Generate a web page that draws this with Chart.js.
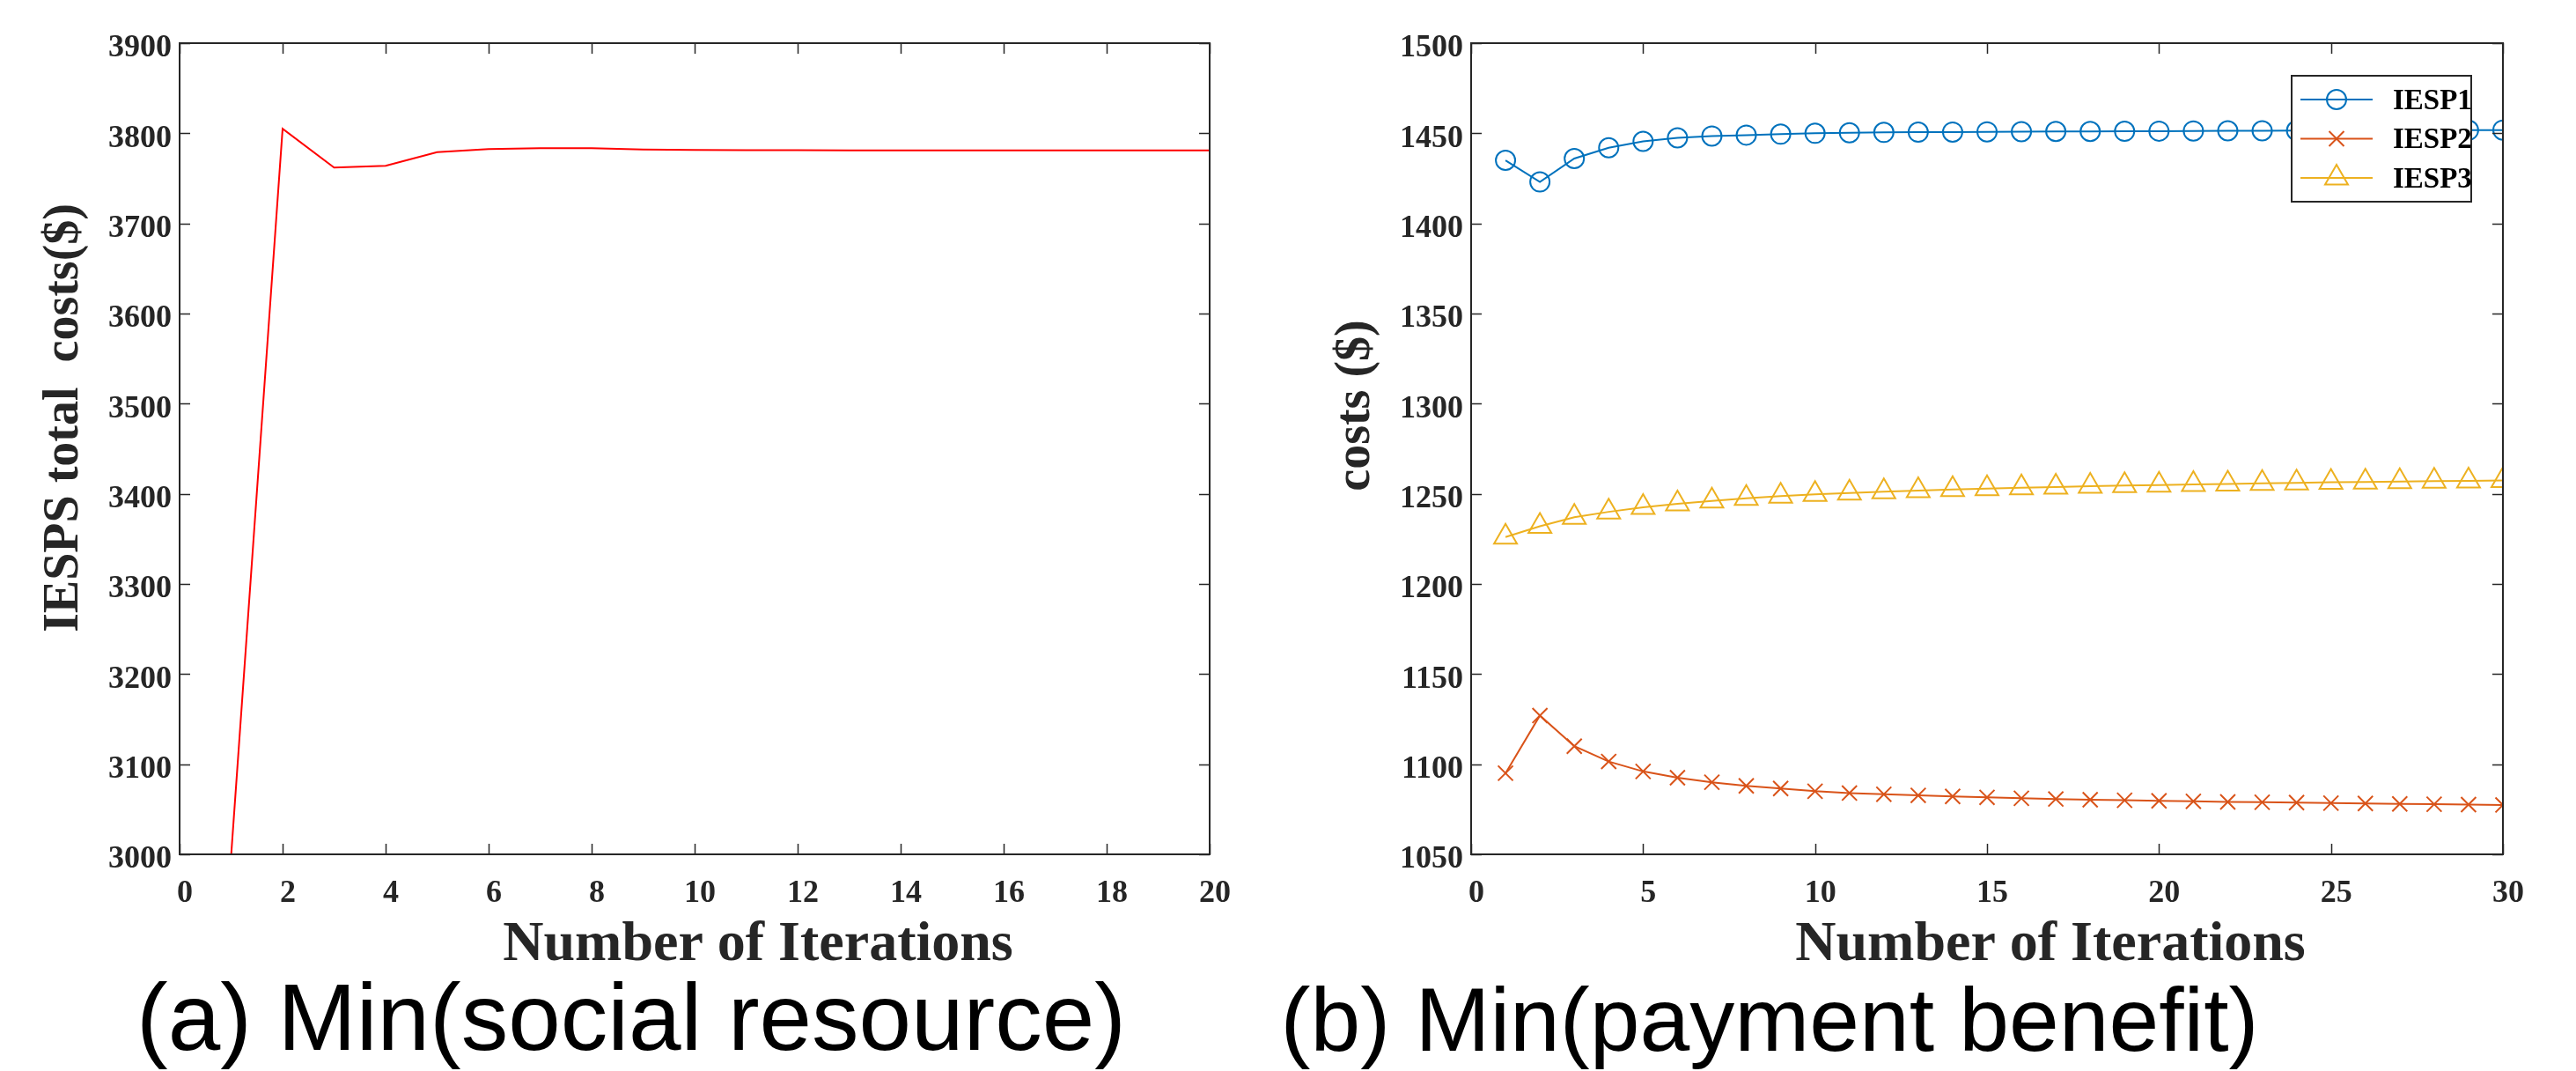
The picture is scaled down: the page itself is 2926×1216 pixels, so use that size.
<!DOCTYPE html>
<html>
<head>
<meta charset="utf-8">
<script src="https://cdn.jsdelivr.net/npm/chart.js@4/dist/chart.umd.min.js"></script>
<style>
  html, body { margin: 0; padding: 0; background: #fff; }
  body { width: 2926px; height: 1216px; position: relative; overflow: hidden; }
  .pane { position: absolute; top: 0; width: 1463px; height: 1216px; }
  .sub { position: absolute; width: 1400px; text-align: center;
         font-family: "Liberation Sans", Arial, sans-serif;
         color: #000; white-space: pre; }
</style>
</head>
<body>
<div class="pane" style="left:0"><canvas id="chartA" width="1463" height="1216"></canvas></div>
<div class="pane" style="left:1463px"><canvas id="chartB" width="1463" height="1216"></canvas></div>
<div class="sub" id="subA" style="left:17px; top:1102px; font-size:107px; line-height:107px">(a) Min(social resource)</div>
<div class="sub" id="subB" style="left:1310px; top:1107px; font-size:102px; line-height:102px">(b) Min(payment benefit)</div>
<script>
// ---------- data: chart (a) ----------
const iterationsA = [1,2,3,4,5,6,7,8,9,10,11,12,13,14,15,16,17,18,19,20];
const totalCostA  = [2998,3805,3762,3764,3779,3782.5,3783.5,3783.5,3782,3781.5,3781.3,3781.2,3781.1,3781,3781,3781,3781,3781,3781,3781];
const xTicksA = [0,2,4,6,8,10,12,14,16,18,20];
const yTicksA = [3000,3100,3200,3300,3400,3500,3600,3700,3800,3900];

// ---------- data: chart (b) ----------
const iterationsB = [1,2,3,4,5,6,7,8,9,10,11,12,13,14,15,16,17,18,19,20,21,22,23,24,25,26,27,28,29,30];
const seriesNamesB = ['IESP1','IESP2','IESP3'];
const iesp1 = [1435,1423,1436,1442,1445.5,1447.5,1448.5,1449,1449.5,1450,1450.3,1450.5,1450.6,1450.7,1450.8,1450.9,1451,1451,1451.1,1451.2,1451.3,1451.4,1451.4,1451.5,1451.5,1451.6,1451.6,1451.7,1451.7,1451.8];
const iesp2 = [1095,1127,1110,1101.5,1096,1092.5,1090,1088,1086.5,1085,1084,1083.3,1082.7,1082.1,1081.6,1081.1,1080.7,1080.3,1080,1079.7,1079.4,1079.1,1078.9,1078.7,1078.4,1078.2,1078,1077.8,1077.6,1077.4];
const iesp3 = [1226,1232,1237,1240,1242.5,1244.5,1246,1247.5,1248.7,1249.7,1250.5,1251.2,1251.8,1252.4,1252.9,1253.4,1253.8,1254.2,1254.6,1254.9,1255.2,1255.5,1255.8,1256.1,1256.4,1256.6,1256.8,1257,1257.2,1257.4];
const xTicksB = [0,5,10,15,20,25,30];
const yTicksB = [1050,1100,1150,1200,1250,1300,1350,1400,1450,1500];

const AXIS_COLOR = '#262626';
const SERIF = '"Liberation Serif", "Times New Roman", serif';

// frame + inward ticks on all four sides
const frameTicks = {
  id: 'frameTicks',
  afterDatasetsDraw(chart) {
    const {ctx, chartArea: a, scales: {x, y}} = chart;
    const L = 12;
    ctx.save();
    ctx.strokeStyle = AXIS_COLOR;
    ctx.lineWidth = 1.5;
    ctx.beginPath();
    x.ticks.forEach(t => {
      const px = Math.round(x.getPixelForValue(t.value)) + 0.5;
      ctx.moveTo(px, a.bottom); ctx.lineTo(px, a.bottom - L);
      ctx.moveTo(px, a.top); ctx.lineTo(px, a.top + L);
    });
    y.ticks.forEach(t => {
      const py = Math.round(y.getPixelForValue(t.value)) + 0.5;
      ctx.moveTo(a.left, py); ctx.lineTo(a.left + L, py);
      ctx.moveTo(a.right, py); ctx.lineTo(a.right - L, py);
    });
    ctx.stroke();
    ctx.lineWidth = 2;
    ctx.strokeRect(a.left, a.top, a.right - a.left, a.bottom - a.top);
    ctx.restore();
  }
};

function drawMarker(ctx, style, r, cx, cy) {
  ctx.beginPath();
  if (style === 'circle') {
    ctx.arc(cx, cy, r, 0, Math.PI * 2);
    ctx.fill();
    ctx.stroke();
  } else if (style === 'crossRot') {
    const d = r * Math.SQRT1_2;
    ctx.moveTo(cx - d, cy - d); ctx.lineTo(cx + d, cy + d);
    ctx.moveTo(cx - d, cy + d); ctx.lineTo(cx + d, cy - d);
    ctx.stroke();
  } else if (style === 'triangle') {
    ctx.moveTo(cx, cy - r);
    ctx.lineTo(cx + r * Math.sin(Math.PI * 2 / 3), cy + r / 2);
    ctx.lineTo(cx - r * Math.sin(Math.PI * 2 / 3), cy + r / 2);
    ctx.closePath();
    ctx.fill();
    ctx.stroke();
  }
}

// boxed legend (line + marker + label), drawn over the data
const boxLegend = {
  id: 'boxLegend',
  afterDraw(chart) {
    const {ctx, chartArea: a} = chart;
    const w = 204, h = 143;
    const x0 = a.right - 36 - w, y0 = a.top + 37;
    ctx.save();
    ctx.fillStyle = '#fff';
    ctx.fillRect(x0, y0, w, h);
    ctx.strokeStyle = AXIS_COLOR;
    ctx.lineWidth = 2;
    ctx.strokeRect(x0, y0, w, h);
    chart.data.datasets.forEach((ds, i) => {
      const cy = y0 + 27 + i * 44.5;
      ctx.strokeStyle = ds.borderColor;
      ctx.lineWidth = ds.borderWidth;
      ctx.beginPath(); ctx.moveTo(x0 + 10, cy); ctx.lineTo(x0 + 92, cy); ctx.stroke();
      ctx.fillStyle = ds.pointBackgroundColor;
      ctx.lineWidth = ds.pointBorderWidth;
      drawMarker(ctx, ds.pointStyle, ds.pointRadius, x0 + 51, cy);
      ctx.fillStyle = '#000';
      ctx.font = 'bold 33px ' + SERIF;
      ctx.textBaseline = 'middle';
      ctx.textAlign = 'left';
      ctx.fillText(ds.label, x0 + 115, cy + 2);
    });
    ctx.restore();
  }
};

const plainNumber = v => String(v);

function axisX(min, max, tickList, titleText) {
  return {
    type: 'linear', min, max,
    afterBuildTicks: s => { s.ticks = tickList.map(v => ({value: v})); },
    afterFit: s => { s.height = 136; },
    grid: { display: false, drawTicks: false },
    border: { display: false },
    ticks: { color: AXIS_COLOR, padding: 23, labelOffset: 6, maxRotation: 0, autoSkip: false,
             callback: plainNumber,
             font: { family: SERIF, size: 36, weight: 'bold', lineHeight: 1.2 } },
    title: { display: true, text: titleText, color: AXIS_COLOR,
             font: { family: SERIF, size: 64, weight: 'bold', lineHeight: 1 },
             padding: { top: 0, bottom: 1 } }
  };
}
function axisY(min, max, tickList, titleText, width, titlePad) {
  return {
    type: 'linear', min, max,
    afterBuildTicks: s => { s.ticks = tickList.map(v => ({value: v})); },
    afterFit: s => { s.width = width; },
    grid: { display: false, drawTicks: false },
    border: { display: false },
    ticks: { color: AXIS_COLOR, padding: 9, labelOffset: 6, autoSkip: false,
             callback: plainNumber,
             font: { family: SERIF, size: 36, weight: 'bold', lineHeight: 1.2 } },
    title: { display: true, text: titleText, color: AXIS_COLOR,
             font: { family: SERIF, size: 56, weight: 'bold', lineHeight: 1.2 },
             padding: { top: titlePad, bottom: 0 } }
  };
}

// ---------- chart (a) ----------
new Chart(document.getElementById('chartA'), {
  type: 'line',
  data: {
    datasets: [{
      label: 'IESPS total costs',
      data: iterationsA.map((x, i) => ({x, y: totalCostA[i]})),
      borderColor: '#FF0000', borderWidth: 2, pointRadius: 0, tension: 0, fill: false
    }]
  },
  options: {
    responsive: false, animation: false, events: [],
    layout: { padding: { left: 0, right: 89, top: 49, bottom: 110 } },
    plugins: { legend: { display: false }, tooltip: { enabled: false }, title: { display: false } },
    scales: {
      x: axisX(0, 20, xTicksA, '         Number of Iterations'),
      y: axisY(3000, 3900, yTicksA, '     IESPS total  costs($)', 204, 40)
    }
  },
  plugins: [frameTicks]
});

// ---------- chart (b) ----------
const colorsB = ['#0072BD', '#D95319', '#EDB120'];
const stylesB = ['circle', 'crossRot', 'triangle'];
const radiiB = [11, 12, 15];
const valuesB = [iesp1, iesp2, iesp3];
new Chart(document.getElementById('chartB'), {
  type: 'line',
  data: {
    datasets: seriesNamesB.map((name, k) => ({
      label: name,
      data: iterationsB.map((x, i) => ({x, y: valuesB[k][i]})),
      borderColor: colorsB[k], borderWidth: 2, tension: 0, fill: false,
      pointStyle: stylesB[k], pointRadius: radiiB[k], pointBorderWidth: 2,
      pointBorderColor: colorsB[k], pointBackgroundColor: 'rgba(255,255,255,0)'
    }))
  },
  options: {
    responsive: false, animation: false, events: [],
    layout: { padding: { left: 0, right: 83, top: 49, bottom: 110 } },
    plugins: { legend: { display: false }, tooltip: { enabled: false }, title: { display: false } },
    scales: {
      x: axisX(0, 30, xTicksB, '         Number of Iterations'),
      y: axisY(1050, 1500, yTicksB, '       costs ($)', 208, 44)
    }
  },
  plugins: [frameTicks, boxLegend]
});
</script>
</body>
</html>
